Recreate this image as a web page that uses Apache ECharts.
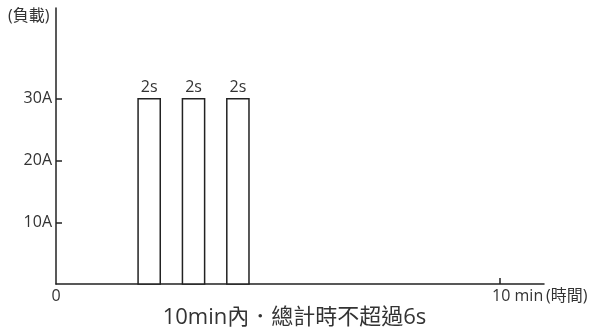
<!DOCTYPE html>
<html>
<head>
<meta charset="utf-8">
<title></title>
<script src="https://cdn.jsdelivr.net/npm/echarts@6/dist/echarts.min.js"></script>
<style>
  html, body { margin: 0; padding: 0; background: #fff; }
  #container { width: 589px; height: 332px; }
</style>
</head>
<body>
<div id="container"></div>
<script>
// pulses: start (min), end (min), load (A)
var pulseStart = [1.85, 2.85, 3.85];
var pulseEnd = [2.35, 3.35, 4.35];
var pulseLoad = [30, 30, 30];
var pulseLabels = ['2s', '2s', '2s'];
var yTicks = [10, 20, 30];
var xTicks = [10];
var xLabels = [0, 10];

var font = '"Open Sans", "Noto Sans CJK TC", sans-serif';
var ink = '#222';

var data = pulseStart.map(function (s, i) {
    return [s, pulseEnd[i], pulseLoad[i], pulseLabels[i]];
});

var chart = echarts.init(document.getElementById('container'));
chart.setOption({
    animation: false,
    grid: { left: 56, right: 45, top: 8, bottom: 48 },
    xAxis: {
        type: 'value',
        min: 0,
        max: 11,
        axisLine: { lineStyle: { color: ink, width: 1.5 } },
        axisTick: { show: true, inside: true, length: 6, customValues: xTicks, lineStyle: { color: ink, width: 1.5 } },
        axisLabel: {
            customValues: xLabels,
            color: '#333', fontFamily: font, fontSize: 16, margin: 4,
            formatter: function (v) { return v === 0 ? '0' : '{pad|}' + v + ' min'; },
            rich: { pad: { width: 36 } }
        },
        splitLine: { show: false }
    },
    yAxis: {
        type: 'value',
        min: 0,
        max: 44.7,
        axisLine: { show: true, lineStyle: { color: ink, width: 1.5 } },
        axisTick: { show: true, inside: true, length: 6, customValues: yTicks, lineStyle: { color: ink, width: 1.5 } },
        axisLabel: {
            customValues: yTicks,
            color: '#333', fontFamily: font, fontSize: 16, margin: 4,
            formatter: function (v) { return v + 'A'; }
        },
        splitLine: { show: false }
    },
    graphic: [
        { type: 'text', left: 8, top: 8, style: { text: '(負載)', fill: '#333', font: '16px ' + font } },
        { type: 'text', left: 546, top: 288, style: { text: '(時間)', fill: '#333', font: '16px ' + font } },
        { type: 'text', left: 'center', top: 307, style: { text: '10min內．總計時不超過6s', fill: '#333', font: '22px ' + font } }
    ],
    series: [{
        type: 'custom',
        encode: { x: [0, 1], y: 2 },
        data: data,
        renderItem: function (params, api) {
            var p0 = api.coord([api.value(0), 0]);
            var p1 = api.coord([api.value(1), api.value(2)]);
            return {
                type: 'group',
                children: [{
                    type: 'rect',
                    shape: { x: p0[0], y: p1[1], width: p1[0] - p0[0], height: p0[1] - p1[1] },
                    style: { fill: '#fff', stroke: ink, lineWidth: 1.5 }
                }, {
                    type: 'text',
                    style: {
                        text: api.value(3), x: (p0[0] + p1[0]) / 2, y: p1[1] - 3,
                        align: 'center', verticalAlign: 'bottom',
                        fill: '#333', font: '16px ' + font
                    }
                }]
            };
        }
    }]
});
</script>
</body>
</html>
